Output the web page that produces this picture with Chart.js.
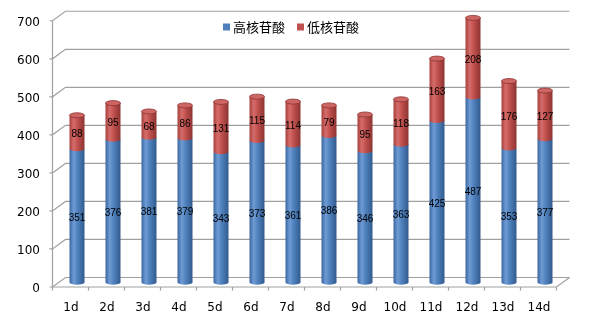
<!DOCTYPE html>
<html>
<head>
<meta charset="utf-8">
<title>高核苷酸 / 低核苷酸</title>
<script src="https://cdn.jsdelivr.net/npm/chart.js@4.4.1/dist/chart.umd.min.js"></script>
<style>
  html, body { margin: 0; padding: 0; background: #fff; }
  #wrap { width: 595px; height: 329px; }
</style>
</head>
<body>
<div id="wrap"><canvas id="chart" width="595" height="329"></canvas></div>
<script>
// data
var days = ['1d', '2d', '3d', '4d', '5d', '6d', '7d', '8d', '9d', '10d', '11d', '12d', '13d', '14d'];
var highNuc = [351, 376, 381, 379, 343, 373, 361, 386, 346, 363, 425, 487, 353, 377];
var lowNuc = [88, 95, 68, 86, 131, 115, 114, 79, 95, 118, 163, 208, 176, 127];
var seriesNames = ['高核苷酸', '低核苷酸'];
var yTicks = [0, 100, 200, 300, 400, 500, 600, 700];

// excel-ish colours: [left shade, highlight, body, right shade, top face]
var palette = [
  ['#3a66a0', '#6e9bd4', '#4f81bd', '#325a8c', '#5d8dc8'],
  ['#a3403d', '#d66c69', '#c0504d', '#8c3432', '#cd6663']
];

// depth of the fake 3d box (bars sit half way back)
var DX = 13, DY = 9.5, RY = 2.5;

var frame3d = {
  id: 'frame3d',
  beforeDatasetsDraw: function (chart) {
    var c = chart.ctx, a = chart.chartArea, ys = chart.scales.y;
    var left = a.left - DX / 2, right = a.right - DX / 2;
    var y0 = ys.getPixelForValue(0) + DY / 2;
    c.save();
    c.strokeStyle = '#a0a0a0';
    c.lineWidth = 1.2;
    // gridlines on the back wall + left wall diagonals
    yTicks.forEach(function (v) {
      var yf = ys.getPixelForValue(v) + DY / 2;
      c.beginPath();
      c.moveTo(left - 3, yf);
      c.lineTo(left, yf);
      c.lineTo(left + DX, yf - DY);
      c.lineTo(right + DX, yf - DY);
      c.stroke();
    });
    // left wall edge
    c.beginPath();
    c.moveTo(left, y0);
    c.lineTo(left, ys.getPixelForValue(700) + DY / 2);
    c.stroke();
    // floor front edge and right diagonal
    c.beginPath();
    c.moveTo(left, y0);
    c.lineTo(right, y0);
    c.lineTo(right + DX, y0 - DY);
    c.stroke();
    // category ticks
    var step = (right - left) / days.length;
    for (var k = 0; k <= days.length; k++) {
      c.beginPath();
      c.moveTo(left + k * step, y0);
      c.lineTo(left + k * step, y0 + 3.5);
      c.stroke();
    }

    // cylinders
    var metas = [chart.getDatasetMeta(0), chart.getDatasetMeta(1)];
    for (var i = 0; i < days.length; i++) {
      metas.forEach(function (meta, s) {
        var el = meta.data[i];
        var w = el.width, x = el.x, top = el.y, base = el.base;
        var col = palette[s];
        var g = c.createLinearGradient(x - w / 2, 0, x + w / 2, 0);
        g.addColorStop(0, col[0]);
        g.addColorStop(0.28, col[1]);
        g.addColorStop(0.55, col[2]);
        g.addColorStop(1, col[3]);
        c.fillStyle = g;
        c.beginPath();
        c.moveTo(x - w / 2, top);
        c.lineTo(x - w / 2, base);
        c.ellipse(x, base, w / 2, RY, 0, Math.PI, 0, true);
        c.lineTo(x + w / 2, top);
        c.closePath();
        c.fill();
        if (s === metas.length - 1) {
          c.fillStyle = col[4];
          c.beginPath();
          c.ellipse(x, top, w / 2, RY, 0, 0, Math.PI * 2);
          c.fill();
          c.strokeStyle = col[3];
          c.lineWidth = 0.8;
          c.stroke();
        }
      });
    }
    c.restore();
    return false;
  },
  afterDraw: function (chart) {
    var c = chart.ctx;
    c.save();
    // value labels
    c.font = '10px "Liberation Sans", Arial, sans-serif';
    c.fillStyle = '#000';
    c.textAlign = 'center';
    c.textBaseline = 'middle';
    chart.data.datasets.forEach(function (ds, s) {
      chart.getDatasetMeta(s).data.forEach(function (el, i) {
        c.fillText(String(ds.data[i]), el.x, (el.y + el.base) / 2 + 2.5);
      });
    });
    // legend inside plot
    c.font = '13px "Noto Sans CJK SC", sans-serif';
    c.textAlign = 'left';
    var lx = 223, ly = 27;
    chart.data.datasets.forEach(function (ds, s) {
      c.fillStyle = ds.backgroundColor;
      c.fillRect(lx, ly - 3.5, 7, 7);
      c.fillStyle = '#000';
      c.fillText(ds.label, lx + 10, ly);
      lx += 10 + c.measureText(ds.label).width + 12;
    });
    c.restore();
  }
};

new Chart(document.getElementById('chart'), {
  type: 'bar',
  data: {
    labels: days,
    datasets: [
      { label: seriesNames[0], data: highNuc, backgroundColor: '#4F81BD', barThickness: 15 },
      { label: seriesNames[1], data: lowNuc, backgroundColor: '#C0504D', barThickness: 15 }
    ]
  },
  options: {
    responsive: false,
    animation: false,
    layout: { padding: { top: 16, right: 32, left: 0, bottom: 0 } },
    plugins: {
      legend: { display: false },
      tooltip: { enabled: false }
    },
    scales: {
      x: {
        stacked: true,
        grid: { display: false, drawTicks: false },
        border: { display: false },
        ticks: {
          font: { family: 'DejaVu Sans', size: 12 },
          color: '#000',
          padding: 18,
          labelOffset: -6,
          maxRotation: 0
        },
        afterFit: function (s) {
          s.height = 46.75;
          s.paddingLeft = 0;
          s.paddingRight = 0;
        }
      },
      y: {
        stacked: true,
        min: 0,
        max: 700,
        grid: { display: false, drawTicks: false },
        border: { display: false },
        ticks: {
          stepSize: 100,
          font: { family: 'DejaVu Sans', size: 12 },
          color: '#000',
          padding: 19,
          labelOffset: 7
        },
        afterFit: function (s) {
          s.width = 59;
          s.paddingTop = 0;
          s.paddingBottom = 0;
        }
      }
    }
  },
  plugins: [frame3d]
});
</script>
</body>
</html>
